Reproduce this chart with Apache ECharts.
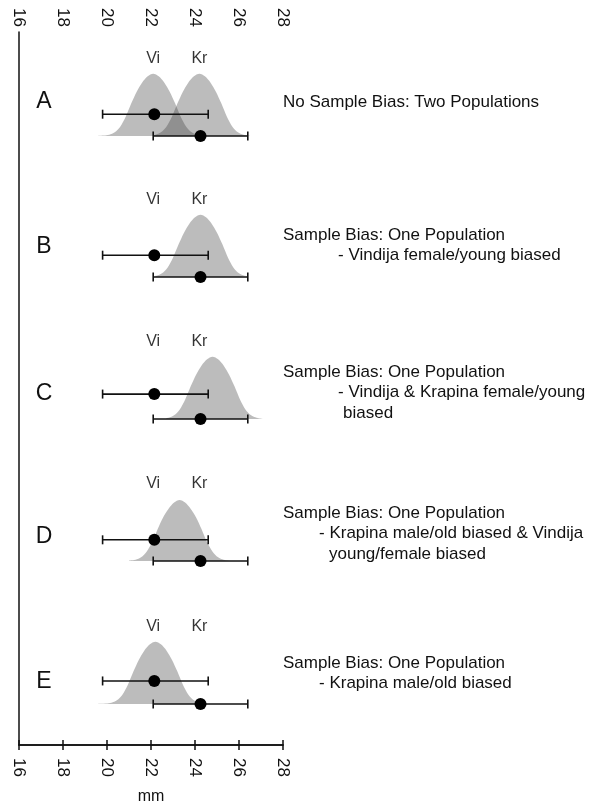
<!DOCTYPE html>
<html><head><meta charset="utf-8">
<script src="https://cdn.jsdelivr.net/npm/echarts@6/dist/echarts.min.js"></script>
<style>html,body{margin:0;padding:0;background:#fff}#c{width:600px;height:805px}</style>
</head><body><div id="c"></div>
<script>
// ---- data ----
const xTicks = [16, 18, 20, 22, 24, 26, 28];
const panelLetters = ['A', 'B', 'C', 'D', 'E'];
const popLabels = ['Vi', 'Kr'];
const popLabelX = [22.1, 24.2];
// error bars: [low, high, mean]
const viBar = [19.8, 24.6, 22.15];
const krBar = [22.1, 26.4, 24.25];
// height of the Vi bar above the baseline (peak of distribution = 1)
const viBarLevel = [0.35, 0.35, 0.40, 0.34, 0.37];
// distribution outlines: [mm, relative height]
const curveA_Vi = [[19.6,0.003],[19.85,0.007],[20.1,0.02],[20.35,0.06],[20.6,0.15],[20.85,0.31],[21.1,0.52],[21.35,0.71],[21.6,0.86],[21.85,0.96],[22.1,1],[22.35,0.96],[22.6,0.86],[22.85,0.71],[23.1,0.52],[23.35,0.31],[23.6,0.15],[23.85,0.06],[24.1,0.02],[24.35,0.007],[24.6,0.003]];
const curveA_Kr = [[22.1,0.015],[22.2,0.02],[22.45,0.06],[22.7,0.15],[22.95,0.31],[23.2,0.52],[23.45,0.71],[23.7,0.86],[23.95,0.96],[24.2,1],[24.45,0.96],[24.7,0.86],[24.95,0.71],[25.2,0.52],[25.45,0.31],[25.7,0.15],[25.95,0.06],[26.2,0.02],[26.45,0.007],[26.5,0.005]];
const curveB = [[22.2,0.018],[22.25,0.02],[22.5,0.06],[22.75,0.15],[23.0,0.31],[23.25,0.52],[23.5,0.71],[23.75,0.86],[24.0,0.96],[24.25,1],[24.5,0.96],[24.75,0.86],[25.0,0.71],[25.25,0.52],[25.5,0.31],[25.75,0.15],[26.0,0.06],[26.25,0.02],[26.3,0.018]];
const curveC = [[22.7,0.017],[22.8,0.02],[23.05,0.06],[23.3,0.15],[23.55,0.31],[23.8,0.52],[24.05,0.71],[24.3,0.86],[24.55,0.96],[24.8,1],[25.05,0.96],[25.3,0.86],[25.55,0.71],[25.8,0.52],[26.05,0.31],[26.3,0.15],[26.55,0.06],[26.8,0.02],[27.05,0.01],[27.1,0.01]];
const curveD = [[21.0,0.01],[21.05,0.01],[21.3,0.02],[21.55,0.06],[21.8,0.15],[22.05,0.3],[22.3,0.51],[22.55,0.7],[22.8,0.84],[23.05,0.94],[23.3,0.98],[23.55,0.94],[23.8,0.84],[24.05,0.7],[24.3,0.51],[24.55,0.3],[24.8,0.15],[25.05,0.06],[25.3,0.02],[25.55,0.01],[25.6,0.01]];
const curveE = [[19.6,0.003],[19.7,0.004],[19.95,0.007],[20.2,0.02],[20.45,0.06],[20.7,0.15],[20.95,0.31],[21.2,0.52],[21.45,0.71],[21.7,0.86],[21.95,0.96],[22.2,1],[22.45,0.96],[22.7,0.86],[22.95,0.71],[23.2,0.52],[23.45,0.31],[23.7,0.15],[23.95,0.06],[24.2,0.02],[24.45,0.007],[24.7,0.003]];
const panelCurves = [[curveA_Vi, curveA_Kr], [curveB], [curveC], [curveD], [curveE]];
// right-hand captions: [text, indent px]
const captions = [
  [['No Sample Bias: Two Populations', 0]],
  [['Sample Bias: One Population', 0], ['- Vindija female/young biased', 55]],
  [['Sample Bias: One Population', 0], ['- Vindija & Krapina female/young', 55], ['biased', 60]],
  [['Sample Bias: One Population', 0], ['- Krapina male/old biased & Vindija', 36], ['young/female biased', 46]],
  [['Sample Bias: One Population', 0], ['- Krapina male/old biased', 36]]
];
const axisName = 'mm';

// ---- layout ----
const W = 600, H = 805;
const gl = 19, gr = W - 283;
const baselines = [136, 277, 419, 561, 704];
const letterY = [102, 247, 394, 537, 682];
const captionY = [102, 235, 372, 513, 663];
const lineGap = 20.5;
const panelH = 81, yMax = 1.3;
const FONT = "'Liberation Sans', Arial, Helvetica, sans-serif";

const grids = [{left: gl, right: gr, top: 32, bottom: H - 745, outerBoundsMode: 'none', containLabel: false}];
const xAxes = [
  {gridIndex: 0, type: 'value', position: 'top', min: xTicks[0], max: xTicks[xTicks.length - 1], interval: xTicks[1] - xTicks[0],
   axisLine: {lineStyle: {color: '#111', width: 1.5}}, axisTick: {length: 5, lineStyle: {color: '#111', width: 1.5}},
   splitLine: {show: false}, axisLabel: {rotate: -90, margin: 5, color: '#111', fontSize: 17, fontFamily: FONT}},
  {gridIndex: 0, type: 'value', position: 'bottom', min: xTicks[0], max: xTicks[xTicks.length - 1], interval: xTicks[1] - xTicks[0],
   axisLine: {lineStyle: {color: '#111', width: 1.5}}, axisTick: {length: 5, lineStyle: {color: '#111', width: 1.5}},
   splitLine: {show: false}, axisLabel: {rotate: -90, margin: 13, color: '#111', fontSize: 17, fontFamily: FONT}}
];
const yAxes = [{gridIndex: 0, type: 'value', min: 0, max: 1, axisLine: {show: true, onZero: false, lineStyle: {color: '#111', width: 1.5}},
  axisTick: {show: false}, axisLabel: {show: false}, splitLine: {show: false}}];
const series = [];
const graphics = [{type: 'text', x: 151, y: 797, style: {text: axisName, font: '16px ' + FONT, fill: '#111',
  textAlign: 'center', align: 'center', textVerticalAlign: 'middle', verticalAlign: 'middle'}}];

baselines.forEach((b, i) => {
  const gi = i + 1;
  const xi = xAxes.length, yi = yAxes.length;
  grids.push({left: gl, right: gr, top: b - panelH, height: panelH, outerBoundsMode: 'none', containLabel: false});
  xAxes.push({gridIndex: gi, type: 'value', min: 16, max: 28, show: false, splitLine: {show: false}});
  yAxes.push({gridIndex: gi, type: 'value', min: 0, max: yMax, show: false, splitLine: {show: false}});
  panelCurves[i].forEach(c => {
    series.push({type: 'line', xAxisIndex: xi, yAxisIndex: yi, data: c, smooth: 0.3,
      symbol: 'none', lineStyle: {width: 0}, areaStyle: {color: 'rgba(60,60,60,0.34)', opacity: 1}, silent: true, z: 1});
  });
  series.push({type: 'custom', xAxisIndex: xi, yAxisIndex: yi, clip: false, z: 5,
    data: [[viBar[0], viBar[1], viBar[2], viBarLevel[i]], [krBar[0], krBar[1], krBar[2], 0]],
    encode: {x: [0, 1, 2], y: 3},
    renderItem: (params, api) => {
      const y = api.value(3);
      const a = api.coord([api.value(0), y]), c = api.coord([api.value(1), y]), m = api.coord([api.value(2), y]);
      const st = {stroke: '#111', lineWidth: 1.6};
      return {type: 'group', children: [
        {type: 'line', shape: {x1: a[0], y1: a[1], x2: c[0], y2: c[1]}, style: st},
        {type: 'line', shape: {x1: a[0], y1: a[1] - 4.5, x2: a[0], y2: a[1] + 4.5}, style: st},
        {type: 'line', shape: {x1: c[0], y1: c[1] - 4.5, x2: c[0], y2: c[1] + 4.5}, style: st},
        {type: 'circle', shape: {cx: m[0], cy: m[1], r: 6}, style: {fill: '#000'}}
      ]};
    }});
  series.push({type: 'scatter', xAxisIndex: xi, yAxisIndex: yi, symbolSize: 0, silent: true,
    data: popLabelX.map((x, k) => ({value: [x, 1.24], label: {show: true, formatter: popLabels[k]}})),
    label: {show: true, position: 'inside', color: '#000', fontSize: 16, fontFamily: FONT}});
  graphics.push({type: 'text', x: 44, y: letterY[i], style: {text: panelLetters[i], font: '23px ' + FONT, fill: '#111',
    textAlign: 'center', textVerticalAlign: 'middle', verticalAlign: 'middle', align: 'center'}});
  captions[i].forEach((ln, k) => {
    graphics.push({type: 'text', x: 283 + ln[1], y: captionY[i] + k * lineGap, style: {text: ln[0], font: '17px ' + FONT, fill: '#111',
      textAlign: 'left', align: 'left', textVerticalAlign: 'middle', verticalAlign: 'middle'}});
  });
});

const chart = echarts.init(document.getElementById('c'), null, {renderer: 'canvas'});
chart.setOption({animation: false, backgroundColor: '#fff', grid: grids, xAxis: xAxes, yAxis: yAxes, series: series, graphic: graphics});
</script></body></html>
